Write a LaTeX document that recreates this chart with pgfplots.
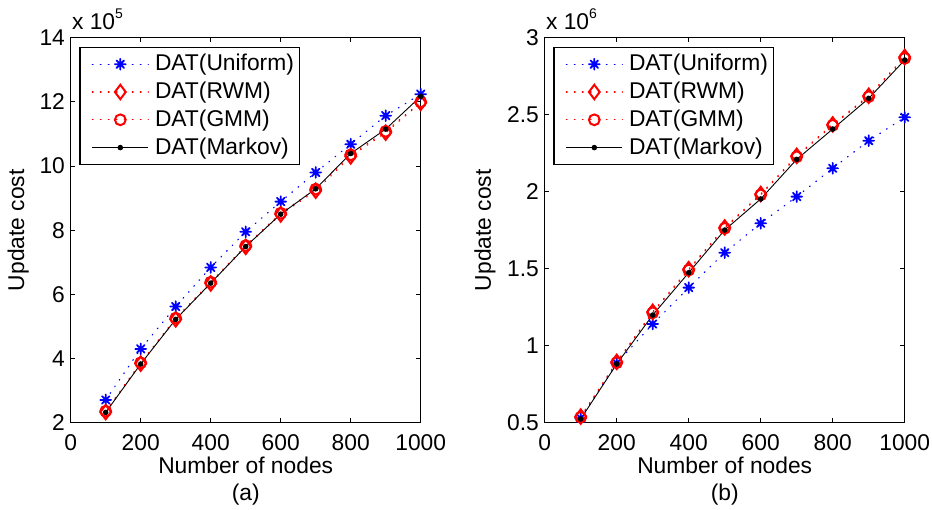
\documentclass[border=0pt]{standalone}
\usepackage{fontspec}
\setmainfont{Liberation Sans}
\usepackage{pgfplots}
\pgfplotsset{compat=1.18}
\pgfdeclareplotmark{mstar}{%
 \pgfpathmoveto{\pgfqpoint{-\pgfplotmarksize}{0pt}}\pgfpathlineto{\pgfqpoint{\pgfplotmarksize}{0pt}}%
 \pgfpathmoveto{\pgfqpoint{0pt}{-\pgfplotmarksize}}\pgfpathlineto{\pgfqpoint{0pt}{\pgfplotmarksize}}%
 \pgfpathmoveto{\pgfqpoint{-.7\pgfplotmarksize}{-.7\pgfplotmarksize}}\pgfpathlineto{\pgfqpoint{.7\pgfplotmarksize}{.7\pgfplotmarksize}}%
 \pgfpathmoveto{\pgfqpoint{-.7\pgfplotmarksize}{.7\pgfplotmarksize}}\pgfpathlineto{\pgfqpoint{.7\pgfplotmarksize}{-.7\pgfplotmarksize}}%
 \pgfusepathqstroke}
\newcommand{\fnt}{\fontsize{11.4bp}{13.5bp}\selectfont}
\pgfplotsset{
 mystyle/.style={
  scale only axis, height=192.5bp, anchor=south west,
  xmin=0, xmax=1000, xtick={0,200,...,1000},
  scaled ticks=false,
  /pgf/number format/assume math mode=true,
  /pgf/number format/1000 sep={},
  tick align=inside, major tick length=2.2bp,
  tick style={black, line width=0.5bp},
  axis line style={line width=0.6bp},
  every tick label/.append style={font=\fnt},
  xticklabel style={anchor=center, yshift=-10bp},
  yticklabel style={anchor=east, inner xsep=0pt, xshift=-2.7bp},
  xlabel style={font=\fnt, align=center, anchor=center, at={(axis description cs:0.5,-0.1527)}},
  ylabel={Update cost},
  ylabel style={font=\fnt, anchor=center},
  clip=false,
  legend cell align=left,
  legend style={at={(0,1)}, anchor=north west, xshift=4.3bp, yshift=-4.5bp, draw=black, line width=0.6bp,
    inner xsep=2.6bp, inner ysep=1.5bp, row sep=0pt, font=\fnt, nodes={inner sep=0pt, font=\fnt}},
  legend image code/.code={\path[draw=none,fill=none] (-3.6bp,-6.95bp) rectangle (31.35bp,6.95bp);
    \draw[mark repeat=2,mark phase=2,##1] plot coordinates {(0bp,0bp) (14bp,0bp) (28bp,0bp)};},
 },
 uni/.style={blue, line width=0.6bp, line cap=round, dash pattern=on 0.4bp off 3.6bp, mark=mstar, mark size=2.7bp, mark options={solid, line width=0.9bp}},
 rwm/.style={red, line width=0.6bp, line cap=round, dash pattern=on 0.4bp off 3.6bp, mark=diamond, mark size=3.6bp, mark options={solid, line width=1bp}},
 gmm/.style={red, line width=0.6bp, line cap=round, dash pattern=on 0.4bp off 3.6bp, mark=o, mark size=2.7bp, mark options={solid, line width=1bp}},
 mkv/.style={black, line width=0.45bp, mark=*, mark size=1.15bp, mark options={solid}},
}
\begin{document}
\begin{tikzpicture}
\useasboundingbox (0,0) rectangle (466bp,255bp);
\begin{axis}[mystyle, at={(35.35bp,43.65bp)}, width=175bp,
  ymin=2, ymax=14, ytick={2,4,...,14},
  xlabel={Number of nodes\\(a)},
  ylabel style={at={(axis description cs:-0.1497,0.5)}}]
\addplot[uni] coordinates {(100,2.71) (200,4.30) (300,5.62) (400,6.84) (500,7.95) (600,8.89) (700,9.80) (800,10.68) (900,11.57) (1000,12.24)};
\addplot[rwm] coordinates {(100,2.33) (200,3.84) (300,5.22) (400,6.34) (500,7.48) (600,8.49) (700,9.23) (800,10.30) (900,11.04) (1000,11.97)};
\addplot[gmm] coordinates {(100,2.36) (200,3.87) (300,5.26) (400,6.38) (500,7.52) (600,8.53) (700,9.28) (800,10.35) (900,11.08) (1000,12.00)};
\addplot[mkv] coordinates {(100,2.32) (200,3.83) (300,5.22) (400,6.35) (500,7.49) (600,8.50) (700,9.29) (800,10.39) (900,11.15) (1000,12.17)};
\legend{DAT(Uniform),DAT(RWM),DAT(GMM),DAT(Markov)}
\node[anchor=base west, inner sep=0pt, font=\fnt] at (rel axis cs:0,1) [xshift=0.5bp, yshift=4.2bp] {x 10\raisebox{5.5bp}{\fontsize{7bp}{8bp}\selectfont 5}};
\end{axis}
\begin{axis}[mystyle, at={(272.35bp,43.65bp)}, width=180bp,
  ymin=0.5, ymax=3, ytick={0.5,1,1.5,2,2.5,3},
  xlabel={Number of nodes\\(b)},
  ylabel style={at={(axis description cs:-0.1658,0.5)}}]
\addplot[uni] coordinates {(100,0.529) (200,0.886) (300,1.141) (400,1.377) (500,1.604) (600,1.795) (700,1.968) (800,2.152) (900,2.331) (1000,2.483)};
\addplot[rwm] coordinates {(100,0.540) (200,0.895) (300,1.220) (400,1.497) (500,1.768) (600,1.985) (700,2.233) (800,2.437) (900,2.623) (1000,2.875)};
\addplot[gmm] coordinates {(100,0.535) (200,0.890) (300,1.214) (400,1.491) (500,1.762) (600,1.979) (700,2.227) (800,2.431) (900,2.617) (1000,2.866)};
\addplot[mkv] coordinates {(100,0.524) (200,0.881) (300,1.199) (400,1.474) (500,1.751) (600,1.953) (700,2.210) (800,2.407) (900,2.606) (1000,2.855)};
\legend{DAT(Uniform),DAT(RWM),DAT(GMM),DAT(Markov)}
\node[anchor=base west, inner sep=0pt, font=\fnt] at (rel axis cs:0,1) [xshift=0.5bp, yshift=4.2bp] {x 10\raisebox{5.5bp}{\fontsize{7bp}{8bp}\selectfont 6}};
\end{axis}
\end{tikzpicture}
\end{document}
